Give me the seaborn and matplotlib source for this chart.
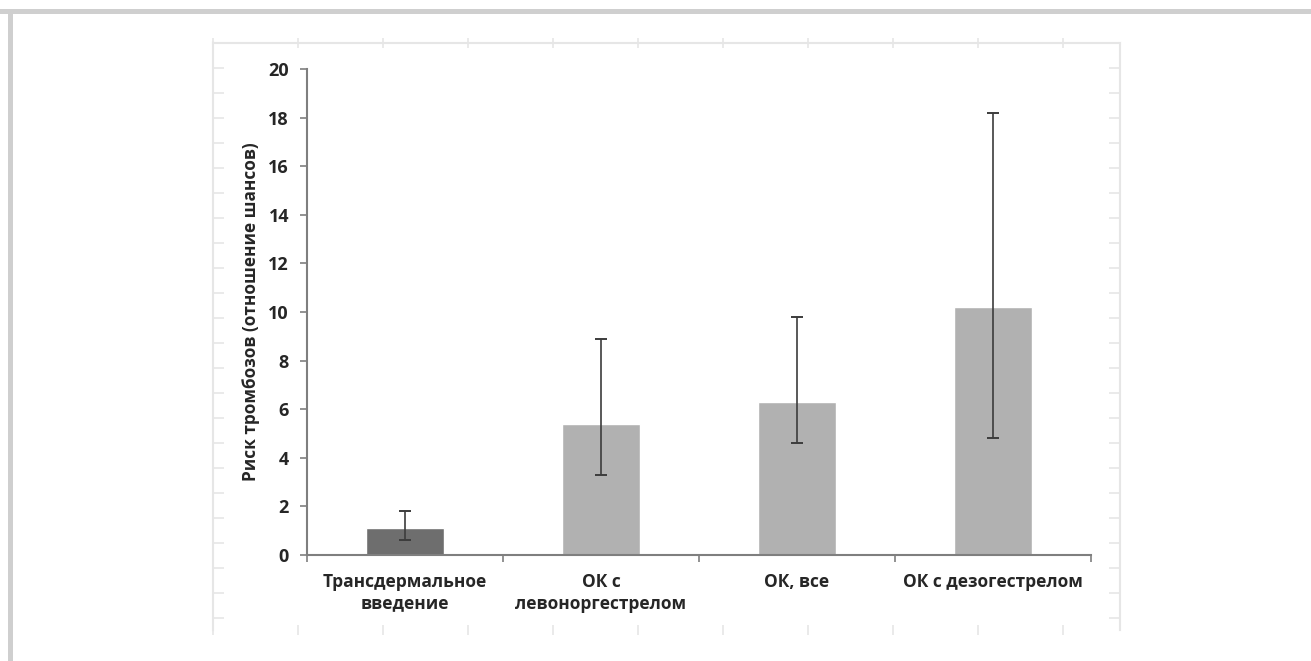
import matplotlib
matplotlib.use("Agg")
import matplotlib.pyplot as plt
import seaborn as sns
import pandas as pd
import numpy as np
from matplotlib.patches import Rectangle

# Odds ratios of thrombosis risk with 95% confidence limits
categories = ["Трансдермальное\nвведение", "ОК с\nлевоноргестрелом", "ОК, все", "ОК с дезогестрелом"]
odds_ratio = [1.1, 5.4, 6.3, 10.2]
ci_low = [0.6, 3.3, 4.6, 4.8]
ci_high = [1.8, 8.9, 9.8, 18.2]
bar_colors = ["#6e6e6e", "#b1b1b1", "#b1b1b1", "#b1b1b1"]
y_ticks = [0, 2, 4, 6, 8, 10, 12, 14, 16, 18, 20]
y_label = "Риск тромбозов (отношение шансов)"

sns.set_style("white")
plt.rcParams["font.family"] = ["Open Sans", "DejaVu Sans"]

W, H = 1311, 661
fig = plt.figure(figsize=(W / 100, H / 100), dpi=100)
fig.patch.set_facecolor("white")

def px_rect(x0, y0, x1, y1):
    return [x0 / W, 1 - y1 / H, (x1 - x0) / W, (y1 - y0) / H]

# outer page frame (top and left edges)
fig.add_artist(Rectangle((0, 1 - 14 / H), 1, 5 / H, transform=fig.transFigure,
                         facecolor="#cfcfcf", edgecolor="none"))
fig.add_artist(Rectangle((8 / W, 0), 5 / W, 1 - 9 / H, transform=fig.transFigure,
                         facecolor="#cfcfcf", edgecolor="none"))

# faint chart-area box behind the plot
bg = fig.add_axes(px_rect(213, 43, 1120, 630))
bg.set_xlim(0, 907)
bg.set_ylim(587, 0)
bg.set_facecolor("none")
for side in ["top", "left", "right"]:
    bg.spines[side].set_color("#e6e6e6")
    bg.spines[side].set_linewidth(1.5)
bg.spines["bottom"].set_visible(False)
bg.set_xticks(np.arange(0, 907, 85))
bg.set_yticks(np.arange(25, 587, 25))
bg.tick_params(axis="x", which="both", top=True, bottom=True, direction="inout",
               length=7, color="#e6e6e6", width=1.2, labelbottom=False, labeltop=False)
bg.tick_params(axis="y", which="both", left=True, right=True, direction="in",
               length=8, color="#e6e6e6", width=1.2, labelleft=False, labelright=False)

# main bar chart
ax = fig.add_axes(px_rect(307, 69, 1091, 555))
df = pd.DataFrame({"cat": categories, "val": odds_ratio})
sns.barplot(data=df, x="cat", y="val", hue="cat", palette=bar_colors, width=0.4,
            saturation=1, legend=False, ax=ax, errorbar=None)

pos = np.arange(len(categories))
vals = np.array(odds_ratio)
yerr = np.vstack([vals - np.array(ci_low), np.array(ci_high) - vals])
ax.errorbar(pos, vals, yerr=yerr, fmt="none", ecolor="#3c3c3c", elinewidth=1.2,
            capsize=4, capthick=1.4)

ax.set_xlim(-0.5, len(categories) - 0.5)
ax.set_ylim(0, 20)
ax.set_yticks(y_ticks)
ax.set_yticklabels([str(t) for t in y_ticks])
ax.set_xlabel("")
ax.set_ylabel(y_label, fontsize=12.4, fontweight="bold", labelpad=6)

for side in ["top", "right"]:
    ax.spines[side].set_visible(False)
for side in ["left", "bottom"]:
    ax.spines[side].set_color("#7f7f7f")
    ax.spines[side].set_linewidth(1.5)

ax.set_xticks(pos)
ax.set_xticklabels(categories, fontsize=12.5, fontweight="bold", linespacing=1.25)
ax.set_xticks(np.arange(-0.5, len(categories), 1.0), minor=True)
ax.tick_params(axis="x", which="major", length=0, pad=13)
ax.tick_params(axis="x", which="minor", bottom=True, length=5, color="#7f7f7f", width=1.2)
ax.tick_params(axis="y", which="major", left=True, length=5, color="#7f7f7f", width=1.2,
               labelsize=13, pad=8)
for t in ax.get_yticklabels():
    t.set_fontweight("bold")
ax.set_facecolor("none")

fig.savefig("out.png", dpi=100, facecolor="white")
